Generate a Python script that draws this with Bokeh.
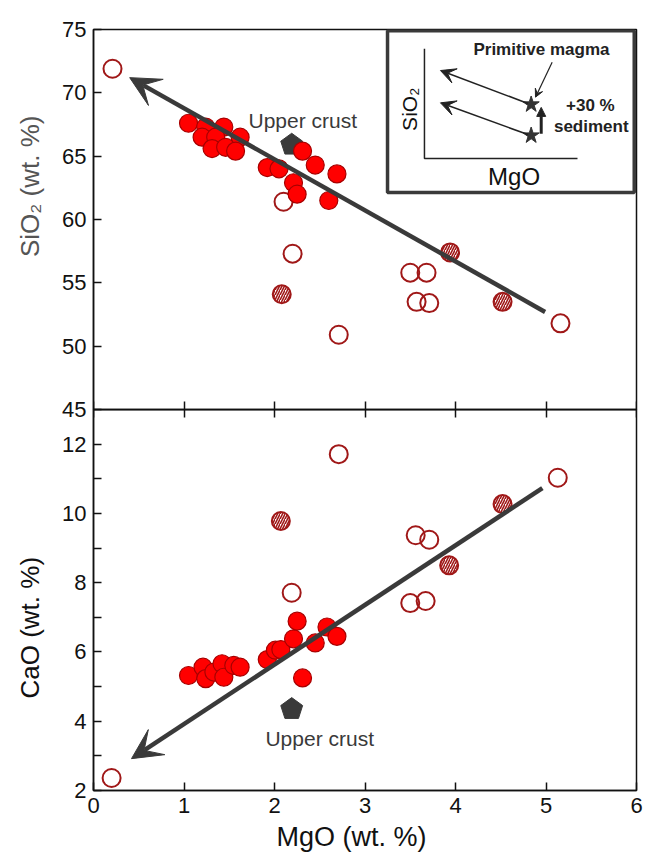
import numpy as np
from math import pi
from bokeh.plotting import figure
from bokeh.layouts import column
from bokeh.models import (Range1d, LinearAxis, FixedTicker, Label, Arrow, Title,
                          VeeHead, NormalHead)
from bokeh.core.properties import value
from bokeh.embed import file_html
from bokeh.resources import INLINE

# ---------------- data ----------------
# Upper panel: SiO2 (wt. %) vs MgO (wt. %)
sio2_filled_mgo = [1.05, 1.24, 1.44, 1.20, 1.35, 1.62, 1.31, 1.46, 1.57,
                   1.92, 2.05, 2.21, 2.25, 2.31, 2.45, 2.69, 2.60]
sio2_filled = [67.6, 67.3, 67.3, 66.5, 66.5, 66.5, 65.6, 65.7, 65.4,
               64.1, 64.0, 62.9, 62.0, 65.4, 64.3, 63.6, 61.5]
sio2_open_mgo = [0.21, 2.10, 2.20, 2.71, 3.50, 3.68, 3.57, 3.71, 5.16]
sio2_open = [71.9, 61.4, 57.3, 50.9, 55.8, 55.8, 53.5, 53.4, 51.8]
sio2_hatched_mgo = [2.08, 3.94, 4.52]
sio2_hatched = [54.1, 57.4, 53.5]

# Lower panel: CaO (wt. %) vs MgO (wt. %)
cao_filled_mgo = [1.05, 1.21, 1.24, 1.33, 1.42, 1.44, 1.55, 1.62, 1.92,
                  2.01, 2.07, 2.21, 2.25, 2.31, 2.45, 2.58, 2.69]
cao_filled = [5.32, 5.56, 5.23, 5.42, 5.66, 5.27, 5.61, 5.56, 5.78,
              6.05, 6.07, 6.38, 6.89, 5.25, 6.26, 6.72, 6.45]
cao_open_mgo = [0.20, 2.19, 2.71, 3.56, 3.71, 3.50, 3.67, 5.13]
cao_open = [2.36, 7.71, 11.71, 9.37, 9.24, 7.41, 7.47, 11.03]
cao_hatched_mgo = [2.07, 3.93, 4.52]
cao_hatched = [9.78, 8.50, 10.27]

# Upper crust reference composition
crust_mgo = 2.19
crust_sio2 = 65.9
crust_cao = 4.35

# Trend arrows (start -> arrow tip)
sio2_trend = [(4.99, 52.7), (0.40, 71.2)]
cao_trend = [(4.96, 10.73), (0.42, 2.92)]

x_ticks = [0, 1, 2, 3, 4, 5, 6]
sio2_ticks = [45, 50, 55, 60, 65, 70, 75]
cao_ticks = [2, 4, 6, 8, 10, 12]
cao_minor = [3, 5, 7, 9, 11]

# ---------------- layout ----------------
W = 652
LEFT, RIGHT = 93, 636
TOP, MID, BOTTOM, H = 29, 409, 790, 866
OVERLAP = 12          # room under the upper frame for its lowest tick label
sio2_lo, sio2_hi = 45, 75
cao_lo, cao_hi = 2, 13
sio2_per_px = (sio2_hi - sio2_lo) / (MID - TOP)
cao_per_px = (cao_hi - cao_lo) / (BOTTOM - MID)
mgo_per_px = 6 / (RIGHT - LEFT)

FONT_NAME = "Liberation Sans"
FONT = value(FONT_NAME)
INK = "#111111"
DARK = "#3a3a3a"
RED = "#ff0000"
RED_EDGE = "#a80000"
OPEN_EDGE = "#a01818"
x_range = Range1d(0, 6)


def make_fig(height, y_range, top, bottom, fill):
    f = figure(width=W, height=height, x_range=x_range, y_range=y_range,
               output_backend="svg", toolbar_location=None,
               x_axis_type=None, y_axis_type=None,
               min_border_left=LEFT, min_border_right=W - RIGHT,
               min_border_top=top, min_border_bottom=bottom)
    f.outline_line_color = INK
    f.outline_line_width = 1.5
    f.background_fill_color = fill
    f.border_fill_color = fill
    return f


def style_axis(ax):
    ax.axis_line_color = INK
    ax.axis_line_width = 1.5
    ax.major_tick_line_color = INK
    ax.major_tick_line_width = 1.5
    ax.minor_tick_line_color = INK
    ax.minor_tick_line_width = 1.5
    ax.major_tick_in = 8
    ax.major_tick_out = 0
    ax.minor_tick_in = 0
    ax.minor_tick_out = 0
    ax.major_label_standoff = 7
    ax.major_label_text_font = FONT_NAME
    ax.major_label_text_font_size = "22px"
    ax.major_label_text_color = INK


def side_title(text, color, align, offset, standoff=27, size="26px", va="middle"):
    return Title(text=text, align=align, offset=offset, standoff=standoff,
                 vertical_align=va, text_font=FONT_NAME, text_font_size=size,
                 text_font_style="normal", text_color=color)


def pentagon(cx, cy, per_px_y, r=11.5):
    ang = pi / 2 + np.arange(5) * 2 * pi / 5
    return list(cx + r * np.cos(ang) * mgo_per_px), list(cy + r * np.sin(ang) * per_px_y)


def circles(f, xo, yo, xh, yh, xf, yf):
    f.scatter(xo, yo, size=18, fill_color=None, line_color=OPEN_EDGE, line_width=2)
    f.scatter(xh, yh, size=18, fill_color="white", line_color=OPEN_EDGE, line_width=2,
              hatch_pattern="/", hatch_color=OPEN_EDGE, hatch_scale=5, hatch_weight=1.6)
    f.scatter(xf, yf, size=18, fill_color=RED, line_color=RED_EDGE, line_width=1.2)


def trend(f, pts):
    (xs, ys), (xe, ye) = pts
    f.add_layout(Arrow(x_start=xs, y_start=ys, x_end=xe, y_end=ye, line_width=4.5,
                       line_color=DARK,
                       end=VeeHead(size=30, fill_color=DARK, line_color=DARK)))


# =============== upper panel (SiO2) ===============
top = make_fig(MID + OVERLAP, Range1d(sio2_lo, sio2_hi), TOP, OVERLAP, "white")
sax = LinearAxis(ticker=FixedTicker(ticks=sio2_ticks, minor_ticks=[]))
style_axis(sax)
top.add_layout(sax, "left")
top.add_layout(side_title("SiO\u2082 (wt. %)", "#555555", "right", 86), "left")
tmid = LinearAxis(ticker=FixedTicker(ticks=x_ticks, minor_ticks=[]), fixed_location=sio2_lo,
                  major_label_overrides={t: "" for t in x_ticks})
style_axis(tmid)
top.add_layout(tmid, "below")

# inset sketch
top.quad(left=[3.249], right=[5.975], bottom=[62.13], top=[74.90],
         fill_color="white", line_color=DARK, line_width=3.5)
top.line([3.657, 3.657, 5.348], [73.49, 64.81, 64.81], line_color="#222222", line_width=1.5)
top.text([3.49], [68.7], text=["SiO\u2082"], angle=pi / 2, text_font=FONT,
         text_font_size="21px", text_color=INK, text_align="center", text_baseline="middle")
top.text([4.647], [63.39], text=["MgO"], text_font=FONT, text_font_size="24px",
         text_color=INK, text_align="center", text_baseline="middle")
top.text([4.95], [73.42], text=["Primitive magma"], text_font=FONT, text_font_style="bold",
         text_font_size="17px", text_color="#222222", text_align="center",
         text_baseline="middle")
top.text([5.49, 5.50], [69.0, 67.34], text=["+30 %", "sediment"], text_font=FONT,
         text_font_style="bold", text_font_size="17px", text_color="#222222",
         text_align="center", text_baseline="middle")
for (xs, ys, xe, ye) in [(4.80, 69.16, 3.834, 71.76), (4.80, 66.71, 3.834, 69.21)]:
    top.add_layout(Arrow(x_start=xs, y_start=ys, x_end=xe, y_end=ye, line_width=1.6,
                         line_color="#222222",
                         end=VeeHead(size=15, fill_color="#222222", line_color="#222222")))
top.add_layout(Arrow(x_start=5.068, y_start=72.42, x_end=4.884, y_end=69.66, line_width=1.2,
                     line_color="#222222",
                     end=VeeHead(size=8, fill_color="#222222", line_color="#222222")))
top.add_layout(Arrow(x_start=4.947, y_start=66.76, x_end=4.947, y_end=68.85, line_width=3,
                     line_color="#222222",
                     end=NormalHead(size=9, fill_color="#222222", line_color="#222222")))
top.scatter([4.836, 4.836], [69.08, 66.63], marker="star", size=17, fill_color="#333333",
            line_color="#333333")

px_, py_ = pentagon(crust_mgo, crust_sio2, sio2_per_px)
top.patch(px_, py_, fill_color=DARK, line_color=DARK)
circles(top, sio2_open_mgo, sio2_open, sio2_hatched_mgo, sio2_hatched,
        sio2_filled_mgo, sio2_filled)
trend(top, sio2_trend)
top.add_layout(Label(x=1.713, y=67.81, text="Upper crust", text_font=FONT_NAME,
                     text_font_size="21px", text_color=DARK, text_align="left",
                     text_baseline="middle"))

# =============== lower panel (CaO) ===============
# transparent, pulled up so that its frame starts right at the upper frame's bottom
bot = make_fig(H - MID, Range1d(cao_lo, cao_hi), 0, H - BOTTOM, None)
bot.margin = (-OVERLAP, 0, 0, 0)
xax = LinearAxis(ticker=FixedTicker(ticks=x_ticks, minor_ticks=[]))
style_axis(xax)
bot.add_layout(xax, "below")
bot.add_layout(side_title("MgO (wt. %)", INK, "left", 183, standoff=10, size="27px"), "below")
cax = LinearAxis(ticker=FixedTicker(ticks=cao_ticks, minor_ticks=cao_minor))
style_axis(cax)
cax.minor_tick_in = 8
bot.add_layout(cax, "left")
bot.add_layout(side_title("CaO (wt. %)", INK, "left", 92), "left")
bmid = LinearAxis(ticker=FixedTicker(ticks=x_ticks, minor_ticks=[]), fixed_location=cao_hi,
                  major_label_overrides={t: "" for t in x_ticks})
style_axis(bmid)
bot.add_layout(bmid, "above")

px_, py_ = pentagon(crust_mgo, crust_cao, cao_per_px)
bot.patch(px_, py_, fill_color=DARK, line_color=DARK)
circles(bot, cao_open_mgo, cao_open, cao_hatched_mgo, cao_hatched,
        cao_filled_mgo, cao_filled)
trend(bot, cao_trend)
bot.add_layout(Label(x=1.90, y=3.50, text="Upper crust", text_font=FONT_NAME,
                     text_font_size="21px", text_color=DARK, text_align="left",
                     text_baseline="middle"))

layout = column(top, bot, spacing=0)
open("out.html", "w").write(file_html(layout, INLINE))
